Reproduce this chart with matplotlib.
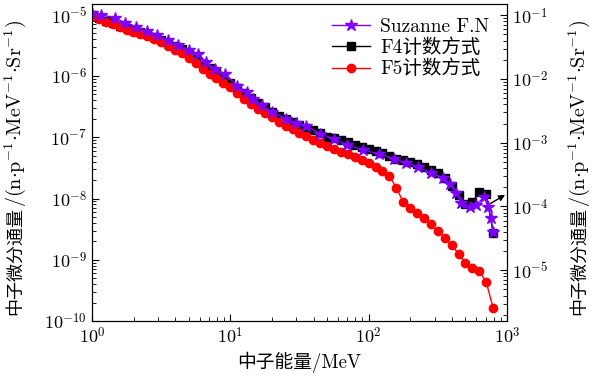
import numpy as np
import matplotlib.pyplot as plt
from matplotlib.ticker import FuncFormatter, LogLocator

plt.rcParams['font.family'] = ['cmr10', 'DejaVu Serif', 'Noto Sans CJK SC']
plt.rcParams['mathtext.fontset'] = 'cm'
plt.rcParams['axes.unicode_minus'] = False

# energy bins of the MCNP tallies (MeV)
energy = [1.000, 1.122, 1.259, 1.413, 1.585, 1.778, 1.995, 2.239, 2.512, 2.818,
          3.162, 3.548, 3.981, 4.467, 5.012, 5.623, 6.310, 7.079, 7.943, 8.913,
          10.00, 11.22, 12.59, 14.13, 15.85, 17.78, 19.95, 22.39, 25.12, 28.18,
          31.62, 35.48, 39.81, 44.67, 50.12, 56.23, 63.10, 70.79, 79.43, 89.13,
          100.0, 112.2, 125.9, 141.3, 158.5, 177.8, 199.5, 223.9, 251.2, 281.8,
          316.2, 354.8, 398.1, 446.7, 501.2, 562.3, 631.0, 707.9, 794.3]

f4 = [1.00e-5, 8.93e-6, 7.98e-6, 7.40e-6, 6.61e-6, 6.13e-6, 5.69e-6, 5.28e-6, 4.89e-6, 4.37e-6,
      3.90e-6, 3.49e-6, 3.11e-6, 2.78e-6, 2.30e-6, 1.91e-6, 1.58e-6, 1.36e-6, 1.13e-6, 9.35e-7,
      7.74e-7, 6.41e-7, 5.31e-7, 4.40e-7, 3.65e-7, 3.14e-7, 2.60e-7, 2.24e-7, 2.00e-7, 1.79e-7,
      1.60e-7, 1.43e-7, 1.32e-7, 1.18e-7, 1.02e-7, 9.78e-8, 9.07e-8, 8.41e-8, 7.51e-8, 6.97e-8,
      6.46e-8, 6.00e-8, 5.56e-8, 4.97e-8, 4.44e-8, 4.27e-8, 3.96e-8, 3.67e-8, 3.28e-8, 2.93e-8,
      2.62e-8, 2.17e-8, 1.61e-8, 1.15e-8, 8.17e-9, 8.80e-9, 1.28e-8, 1.19e-8, 2.74e-9]

f5 = [9.63e-6, 8.60e-6, 7.68e-6, 7.13e-6, 6.37e-6, 5.69e-6, 5.28e-6, 4.89e-6, 4.54e-6, 4.06e-6,
      3.62e-6, 3.11e-6, 2.68e-6, 2.39e-6, 1.98e-6, 1.64e-6, 1.31e-6, 1.09e-6, 9.35e-7, 7.74e-7,
      6.66e-7, 5.31e-7, 4.24e-7, 3.51e-7, 2.91e-7, 2.51e-7, 2.15e-7, 1.79e-7, 1.54e-7, 1.37e-7,
      1.18e-7, 1.05e-7, 9.07e-8, 8.10e-8, 7.23e-8, 6.46e-8, 5.77e-8, 5.35e-8, 4.78e-8, 4.27e-8,
      3.82e-8, 3.28e-8, 2.82e-8, 2.34e-8, 1.49e-8, 8.80e-9, 7.00e-9, 5.82e-9, 4.82e-9, 3.85e-9,
      2.96e-9, 2.27e-9, 1.75e-9, 1.24e-9, 8.87e-10, 7.35e-10, 6.56e-10, 4.34e-10, 1.63e-10]

# Suzanne F.N measured spectrum
suz_e = [1.0, 1.16, 1.47, 1.73, 2.08, 2.50, 2.95, 3.54, 4.19, 5.03,
         5.84, 6.67, 7.75, 9.15, 11.2, 13.2, 14.6, 16.9, 20.0, 25.3,
         29.9, 35.3, 44.5, 56.2, 69.8, 91.1, 119, 153, 186, 228,
         282, 345, 388, 429, 466, 541, 598, 683, 730, 767, 794]
suz_f = [1.08e-5, 1.00e-5, 8.93e-6, 7.40e-6, 6.37e-6, 5.48e-6, 4.71e-6, 3.90e-6, 3.24e-6, 2.68e-6,
         2.30e-6, 1.71e-6, 1.31e-6, 1.09e-6, 6.92e-7, 5.52e-7, 4.24e-7, 3.38e-7, 2.60e-7, 2.00e-7,
         1.72e-7, 1.54e-7, 1.14e-7, 9.42e-8, 7.51e-8, 6.22e-8, 5.35e-8, 4.44e-8, 3.82e-8, 3.28e-8,
         2.62e-8, 2.17e-8, 1.73e-8, 1.24e-8, 8.48e-9, 7.29e-9, 7.86e-9, 1.06e-8, 7.29e-9, 4.82e-9, 2.84e-9]

fig = plt.figure(figsize=(5.92, 3.81), dpi=100)
ax = fig.add_axes([0.1554, 0.1575, 0.701, 0.832])

purple = '#7f00ff'
lf4, = ax.plot(energy, f4, '-s', color='k', ms=6, lw=1, zorder=2)
lf5, = ax.plot(energy, f5, '-o', color='#ff0000', ms=6, lw=1, zorder=3)
lsz, = ax.plot(suz_e, suz_f, '-*', color=purple, ms=9, lw=1, zorder=4)

ax.set_xscale('log')
ax.set_yscale('log')
ax.set_xlim(1, 1000)
ax.set_ylim(1e-10, 1.5e-5)

fmt = FuncFormatter(lambda v, p: r'$10^{%d}$' % round(np.log10(v)))
ax.xaxis.set_major_formatter(fmt)
ax.yaxis.set_major_formatter(fmt)
ax.tick_params(which='both', direction='in', labelsize=13, top=False, right=False)
ax.tick_params(which='major', length=5)
ax.tick_params(which='minor', length=3)
ax.set_xlabel('中子能量/MeV', fontsize=13.5)

ax2 = ax.twinx()
ax2.set_yscale('log')
ax2.set_ylim(1.6e-6, 0.15)
ax2.yaxis.set_major_locator(LogLocator(base=10))
ax2.yaxis.set_major_formatter(fmt)
ax2.tick_params(which='both', direction='in', labelsize=13)
ax2.tick_params(which='major', length=5)
ax2.tick_params(which='minor', length=3)

# y labels: Chinese name followed by the unit set in mathtext
name = '中子微分通量'
unit = r'$/(\mathrm{n}{\cdot}\mathrm{p}^{-1}{\cdot}\mathrm{MeV}^{-1}{\cdot}\mathrm{Sr}^{-1})$'
for xpos in (0.026, 0.978):
    t = fig.text(xpos, 0.174, name, rotation=90, ha='center', va='bottom',
                 fontsize=13, family='Noto Sans CJK SC')
    ax.annotate(unit, xy=(0.5, 0.995), xycoords=t, rotation=90, ha='center',
                va='bottom', fontsize=14.5, annotation_clip=False)

ax.annotate('', xy=(969, 1.15e-8), xytext=(755, 8.2e-9),
            arrowprops=dict(arrowstyle='-|>', color='k', lw=1, mutation_scale=9,
                            shrinkA=0, shrinkB=0))

ax.legend([lsz, lf4, lf5],
          ['Suzanne F.N', 'F4计数方式', 'F5计数方式'],
          loc='upper right', bbox_to_anchor=(0.976, 0.981), borderaxespad=0,
          frameon=False, fontsize=14, handlelength=2,
          labelspacing=0.15, handletextpad=0.5)

fig.savefig('out.png', dpi=100)
